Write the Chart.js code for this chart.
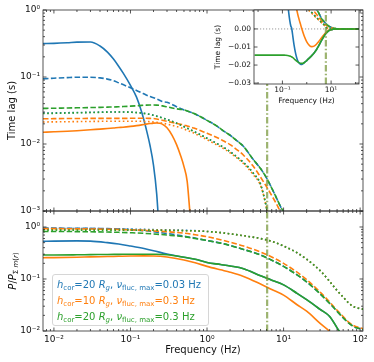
<!DOCTYPE html>
<html>
<head>
<meta charset="utf-8">
<script src="https://cdn.jsdelivr.net/npm/chart.js@4.4.1/dist/chart.umd.min.js"></script>
<style>
  body { margin: 0; background: #fff; }
  #fig { position: relative; width: 374px; height: 362px; font-family: "DejaVu Sans", sans-serif; color: #000; }
  #fig canvas { position: absolute; left: 0; top: 0; }
  #ylabel2 { position: absolute; left: 12px; top: 271px; font-size: 10px; white-space: nowrap;
    transform: translate(-50%, -50%) rotate(-90deg); }
  #legend { position: absolute; left: 52px; top: 274px; width: 151px; padding: 2px 0 0 4px;
    border: 1px solid #d6d6d6; border-radius: 3px; background: rgba(255,255,255,0.8);
    font-size: 10px; line-height: 16px; white-space: nowrap; }
  sub { font-size: 7px; vertical-align: -2px; line-height: 0; }
</style>
</head>
<body>
<div id="fig">
  <canvas id="lag" width="374" height="362"></canvas>
  <canvas id="pow" width="374" height="362"></canvas>
  <canvas id="inset" width="374" height="362"></canvas>
  <div id="ylabel2"><i>P</i>/<i>P</i><sub>Σ <i>m</i>(<i>r</i>)</sub></div>
  <div id="legend"></div>
</div>
<script>
// frequency of the marked line (Hz)
const fMark = 6.1;

// time lag (s) vs frequency (Hz)
const fLag = [0.0072, 0.01, 0.015, 0.02, 0.03, 0.04, 0.05, 0.06, 0.07, 0.08,
  0.1, 0.12, 0.14, 0.16, 0.18, 0.2, 0.22, 0.24, 0.26, 0.3,
  0.35, 0.4, 0.45, 0.5, 0.55, 0.6, 0.65, 0.7, 0.8, 1,
  1.3, 1.6, 2, 2.5, 3, 4, 5, 6, 7, 8,
  9, 10, 12, 15, 20, 30, 50, 140];
const lagBlueSolid = [0.315, 0.318, 0.325, 0.332, 0.333, 0.29, 0.235, 0.185, 0.145, 0.115,
  0.075, 0.05, 0.03, 0.017, 0.0095, 0.0048, 0.0018, 0.0004, -0.0028, -0.0088,
  -0.0137, -0.0167, -0.0183, -0.0191, -0.0195, -0.0197, -0.0196, -0.0193, -0.0186, -0.0175,
  -0.016, -0.0148, -0.0133, -0.0115, -0.0097, -0.0065, -0.0042, -0.0027, -0.0017, -0.001,
  -0.0006, -0.0004, -0.0002, 0, 0, 0, 0, 0];
const lagBlueDashed = [0.094, 0.096, 0.098, 0.099, 0.099, 0.097, 0.093, 0.088, 0.082, 0.077,
  0.069, 0.063, 0.058, 0.054, 0.051, 0.049, 0.047, 0.045, 0.043, 0.042,
  0.039, 0.036, 0.034, 0.0323, 0.031, 0.03, 0.029, 0.028, 0.026, 0.0225,
  0.019, 0.016, 0.0135, 0.011, 0.0092, 0.0059, 0.0043, 0.0031, 0.0022, 0.0016,
  0.0012, 0.00095, 0.0005, 0.0002, 0.00005, 0, 0, 0];
const lagBlueDotted = [0.029, 0.0291, 0.0293, 0.0295, 0.0297, 0.0299, 0.03, 0.0301, 0.0301, 0.0301,
  0.0299, 0.0295, 0.029, 0.0284, 0.0277, 0.0269, 0.0261, 0.0253, 0.0246, 0.0233,
  0.0218, 0.0205, 0.0193, 0.0182, 0.0173, 0.0165, 0.0158, 0.0151, 0.014, 0.0122,
  0.0104, 0.0091, 0.0077, 0.0063, 0.0053, 0.0037, 0.0025, 0.0011, 0.0004, 0.0001,
  0, 0, 0, 0, 0, 0, 0, 0];
const lagOrangeSolid = [0.015, 0.0152, 0.0155, 0.0158, 0.0163, 0.0167, 0.017, 0.0173, 0.0176, 0.0178,
  0.0183, 0.0188, 0.0193, 0.0198, 0.0202, 0.0205, 0.0206, 0.0204, 0.0198, 0.0175,
  0.0135, 0.0098, 0.0068, 0.0046, 0.0028, 0.0009, -0.0006, -0.0019, -0.0042, -0.0072,
  -0.0092, -0.0098, -0.0095, -0.0085, -0.0072, -0.005, -0.0033, -0.0021, -0.0013, -0.0008,
  -0.0005, -0.0003, -0.0001, 0, 0, 0, 0, 0];
const lagOrangeDashed = [0.0238, 0.0239, 0.024, 0.024, 0.0241, 0.0241, 0.0241, 0.0241, 0.0241, 0.0241,
  0.0242, 0.0242, 0.0242, 0.0242, 0.0241, 0.024, 0.0236, 0.0231, 0.0226, 0.0218,
  0.021, 0.0203, 0.0197, 0.0192, 0.0186, 0.0181, 0.0175, 0.017, 0.016, 0.0145,
  0.0127, 0.0113, 0.0098, 0.0081, 0.0068, 0.0047, 0.0032, 0.0023, 0.0017, 0.0013,
  0.001, 0.0008, 0.0004, 0.0002, 0, 0, 0, 0];
const lagOrangeDotted = [0.0213, 0.0214, 0.0215, 0.0216, 0.0217, 0.0218, 0.0218, 0.0219, 0.0219, 0.0219,
  0.0219, 0.0219, 0.0218, 0.0217, 0.0215, 0.0213, 0.0211, 0.0208, 0.0205, 0.0198,
  0.019, 0.0182, 0.0175, 0.0168, 0.016, 0.0154, 0.0148, 0.0142, 0.0132, 0.0116,
  0.0099, 0.0087, 0.0074, 0.0061, 0.0051, 0.0035, 0.0024, 0.0011, 0.0004, 0.0001,
  0, 0, 0, 0, 0, 0, 0, 0];
const lagGreenSolid = [-0.0145, -0.0145, -0.0145, -0.0145, -0.0145, -0.0145, -0.0145, -0.0145, -0.0145, -0.0145,
  -0.0145, -0.0145, -0.0146, -0.0147, -0.0148, -0.015, -0.0152, -0.0155, -0.0158, -0.0165,
  -0.0173, -0.018, -0.0185, -0.0188, -0.019, -0.0191, -0.0191, -0.019, -0.0186, -0.0175,
  -0.016, -0.0148, -0.0133, -0.0115, -0.0097, -0.0065, -0.0042, -0.0027, -0.0017, -0.001,
  -0.0006, -0.0004, -0.0002, 0, 0, 0, 0, 0];
const lagGreenDashed = [0.034, 0.0342, 0.0345, 0.0347, 0.035, 0.0352, 0.0355, 0.0357, 0.036, 0.0362,
  0.0367, 0.0372, 0.0377, 0.038, 0.0382, 0.0383, 0.0381, 0.0377, 0.0371, 0.0358,
  0.0345, 0.0335, 0.0328, 0.0323, 0.031, 0.03, 0.029, 0.028, 0.026, 0.0225,
  0.019, 0.016, 0.0135, 0.011, 0.0092, 0.0059, 0.0043, 0.0031, 0.0022, 0.0016,
  0.0012, 0.00095, 0.0005, 0.0002, 0.00005, 0, 0, 0];
const lagGreenDotted = [0.0285, 0.0287, 0.029, 0.0292, 0.0295, 0.0297, 0.0299, 0.03, 0.03, 0.03,
  0.0298, 0.0294, 0.0289, 0.0283, 0.0276, 0.0268, 0.026, 0.0252, 0.0245, 0.0232,
  0.0217, 0.0204, 0.0192, 0.0181, 0.0172, 0.0164, 0.0157, 0.015, 0.0139, 0.0122,
  0.0104, 0.0091, 0.0077, 0.0063, 0.0053, 0.0037, 0.0025, 0.0011, 0.0004, 0.0001,
  0, 0, 0, 0, 0, 0, 0, 0];

// P / P_sum vs frequency (Hz)
const fPow = [0.0072, 0.01, 0.02, 0.03, 0.05, 0.07, 0.1, 0.15, 0.2, 0.3,
  0.5, 0.7, 1, 1.5, 2, 3, 5, 7, 10, 15,
  20, 30, 40, 50, 60, 70, 80, 90, 140];
const powBlueSolid = [0.53, 0.535, 0.54, 0.535, 0.5, 0.47, 0.43, 0.385, 0.35, 0.302,
  0.262, 0.24, 0.208, 0.19, 0.178, 0.158, 0.115, 0.095, 0.077, 0.053,
  0.04, 0.026, 0.019, 0.0115, 0.0075, 0.005, 0.0034, 0.0024, 0.0007];
const powBlueDashed = [0.95, 0.95, 0.945, 0.94, 0.93, 0.915, 0.89, 0.85, 0.81, 0.75,
  0.67, 0.61, 0.55, 0.49, 0.44, 0.37, 0.29, 0.23, 0.175, 0.12,
  0.088, 0.052, 0.034, 0.024, 0.018, 0.0145, 0.0125, 0.0115, 0.0102];
const powBlueDotted = [0.93, 0.93, 0.93, 0.93, 0.925, 0.92, 0.91, 0.9, 0.89, 0.88,
  0.865, 0.85, 0.82, 0.78, 0.74, 0.68, 0.6, 0.53, 0.43, 0.32,
  0.24, 0.145, 0.09, 0.06, 0.045, 0.035, 0.03, 0.028, 0.025];
const powOrangeSolid = [0.257, 0.258, 0.262, 0.266, 0.27, 0.273, 0.276, 0.278, 0.277, 0.265,
  0.232, 0.205, 0.175, 0.15, 0.135, 0.112, 0.08, 0.063, 0.049, 0.032,
  0.024, 0.014, 0.0098, 0.0066, 0.0046, 0.0033, 0.0024, 0.0018, 0.0006];
const powOrangeDashed = [0.93, 0.93, 0.92, 0.915, 0.905, 0.895, 0.88, 0.86, 0.84, 0.81,
  0.76, 0.71, 0.65, 0.57, 0.51, 0.43, 0.33, 0.265, 0.2, 0.135,
  0.097, 0.056, 0.036, 0.025, 0.019, 0.015, 0.013, 0.012, 0.0105];
const powOrangeDotted = [0.9, 0.9, 0.9, 0.9, 0.895, 0.89, 0.885, 0.88, 0.875, 0.865,
  0.85, 0.84, 0.82, 0.78, 0.74, 0.68, 0.6, 0.53, 0.43, 0.32,
  0.24, 0.145, 0.09, 0.06, 0.045, 0.035, 0.03, 0.028, 0.025];
const powGreenSolid = [0.29, 0.29, 0.292, 0.294, 0.296, 0.298, 0.3, 0.3, 0.299, 0.292,
  0.262, 0.24, 0.208, 0.19, 0.178, 0.158, 0.115, 0.095, 0.077, 0.053,
  0.04, 0.026, 0.019, 0.0115, 0.0075, 0.005, 0.0034, 0.0024, 0.0007];
const powGreenDashed = [0.82, 0.82, 0.815, 0.81, 0.8, 0.79, 0.775, 0.755, 0.735, 0.7,
  0.65, 0.6, 0.55, 0.49, 0.44, 0.37, 0.29, 0.23, 0.175, 0.12,
  0.088, 0.052, 0.034, 0.024, 0.018, 0.0145, 0.0125, 0.0115, 0.0102];
const powGreenDotted = [0.87, 0.87, 0.87, 0.87, 0.87, 0.87, 0.87, 0.865, 0.865, 0.86,
  0.85, 0.84, 0.82, 0.78, 0.74, 0.68, 0.6, 0.53, 0.43, 0.32,
  0.24, 0.145, 0.09, 0.06, 0.045, 0.035, 0.03, 0.028, 0.025];

// legend entries
const hCor = [20, 10, 20];
const nuFlucMax = ["0.03", "0.3", "0.3"];

const COLORS = ["#1f77b4", "#ff7f0e", "#2ca02c"];
const DASH = { solid: [], dashed: [5.5, 2.4], dotted: [1.6, 2.6] };
const MARK_COLOR = "rgba(118,150,56,0.72)";
const FONT = "DejaVu Sans";

const F_MIN = 0.0072, F_MAX = 109;
const LAG_MIN = 0.001, LAG_MAX = 1;
const POW_MIN = 0.01, POW_MAX = 2.03;
const IN_MIN = -0.0305, IN_MAX = 0.0105;
const IN_FMIN = 0.0068, IN_FMAX = 140;

Chart.defaults.font.family = FONT;
Chart.defaults.color = "#111";

const SUP = { "-": "\u207b", "0": "\u2070", "1": "\u00b9", "2": "\u00b2", "3": "\u00b3" };
function powLabel(v) {
  const e = String(Math.round(Math.log10(v)));
  return "10" + e.split("").map((c) => SUP[c]).join("");
}

function decades(min, max) {
  const out = [];
  for (let e = Math.ceil(Math.log10(min) - 1e-9); e <= Math.floor(Math.log10(max) + 1e-9); e++) {
    out.push(Number("1e" + e));
  }
  return out;
}

function logMarks(min, max) {
  const minor = [];
  for (let e = Math.floor(Math.log10(min)); e <= Math.ceil(Math.log10(max)); e++) {
    for (let k = 2; k < 10; k++) {
      const v = k * Number("1e" + e);
      if (v >= min && v <= max) minor.push(v);
    }
  }
  return { major: decades(min, max), minor };
}

// matplotlib style ticks pointing inwards on all four sides
const inTicks = {
  id: "inTicks",
  afterDraw(chart, args, opts) {
    const { ctx, chartArea: a } = chart;
    ctx.save();
    ctx.strokeStyle = "#2b2b2b";
    ctx.lineWidth = 0.8;
    for (const id of ["x", "y"]) {
      const s = chart.scales[id];
      const marks = opts[id] || logMarks(s.min, s.max);
      for (const [vals, len] of [[marks.major, 3.5], [marks.minor, 2]]) {
        for (const v of vals) {
          const p = s.getPixelForValue(v);
          ctx.beginPath();
          if (id === "x") {
            if (p < a.left - 0.5 || p > a.right + 0.5) continue;
            ctx.moveTo(p, a.bottom); ctx.lineTo(p, a.bottom - len);
            ctx.moveTo(p, a.top); ctx.lineTo(p, a.top + len);
          } else {
            if (p < a.top - 0.5 || p > a.bottom + 0.5) continue;
            ctx.moveTo(a.left, p); ctx.lineTo(a.left + len, p);
            ctx.moveTo(a.right, p); ctx.lineTo(a.right - len, p);
          }
          ctx.stroke();
        }
      }
    }
    ctx.strokeRect(a.left, a.top, a.right - a.left, a.bottom - a.top);
    ctx.restore();
  },
};

const whiteBox = {
  id: "whiteBox",
  beforeDraw(chart) {
    const { ctx, chartArea: a } = chart;
    ctx.save();
    ctx.fillStyle = "#fff";
    ctx.fillRect(a.left, a.top, a.right - a.left, a.bottom - a.top);
    ctx.restore();
  },
};

function series(xs, ys, color, style, order, keep) {
  return {
    data: xs.map((x, i) => ({ x, y: keep(ys[i]) ? ys[i] : null })),
    borderColor: color,
    borderWidth: 1.6,
    borderDash: DASH[style],
    pointRadius: 0,
    cubicInterpolationMode: "monotone",
    spanGaps: false,
    order,
    clip: 0,
  };
}

function markLine(yMin, yMax) {
  return {
    data: [{ x: fMark, y: yMin }, { x: fMark, y: yMax }],
    borderColor: MARK_COLOR,
    borderWidth: 2.2,
    borderDash: [6.5, 2.2, 1.6, 2.2],
    pointRadius: 0,
    order: 0,
    clip: 0,
  };
}

function lagSets(keep) {
  return [
    series(fLag, lagBlueSolid, COLORS[0], "solid", 3, keep),
    series(fLag, lagBlueDashed, COLORS[0], "dashed", 3, keep),
    series(fLag, lagBlueDotted, COLORS[0], "dotted", 3, keep),
    series(fLag, lagOrangeSolid, COLORS[1], "solid", 2, keep),
    series(fLag, lagOrangeDashed, COLORS[1], "dashed", 2, keep),
    series(fLag, lagOrangeDotted, COLORS[1], "dotted", 2, keep),
    series(fLag, lagGreenSolid, COLORS[2], "solid", 1, keep),
    series(fLag, lagGreenDashed, COLORS[2], "dashed", 1, keep),
    series(fLag, lagGreenDotted, COLORS[2], "dotted", 1, keep),
  ];
}

const positive = (v) => v > 0;
const any = () => true;
const noGrid = { display: false, drawTicks: false, tickLength: 0 };

function logAxis(min, max, showLabels, extra) {
  return Object.assign({
    type: "logarithmic",
    min, max,
    grid: noGrid,
    border: { display: false },
    afterBuildTicks: (s) => { s.ticks = decades(min, max).map((v) => ({ value: v })); },
    ticks: { display: showLabels, callback: (v) => powLabel(v), font: { size: 9 },
      padding: 3, maxRotation: 0, autoSkip: false },
  }, extra);
}

const base = {
  responsive: false,
  animation: false,
  devicePixelRatio: 1,
  events: [],
  plugins: { legend: { display: false }, tooltip: { enabled: false } },
};

// upper panel: time lag, log scale
new Chart(document.getElementById("lag"), {
  type: "line",
  data: { datasets: [...lagSets(positive), markLine(LAG_MIN, LAG_MAX)] },
  options: {
    ...base,
    layout: { padding: { left: 0, top: 10, right: 11, bottom: 151 } },
    scales: {
      x: logAxis(F_MIN, F_MAX, false, { afterFit: (s) => { s.height = 0; } }),
      y: logAxis(LAG_MIN, LAG_MAX, true, {
        afterFit: (s) => { s.width = 43; },
        title: { display: true, text: "Time lag (s)", font: { size: 10 }, padding: { top: 6, bottom: 0 } },
      }),
    },
  },
  plugins: [inTicks],
});

// lower panel: power fraction
new Chart(document.getElementById("pow"), {
  type: "line",
  data: {
    datasets: [
      series(fPow, powBlueSolid, COLORS[0], "solid", 3, positive),
      series(fPow, powBlueDashed, COLORS[0], "dashed", 3, positive),
      series(fPow, powBlueDotted, COLORS[0], "dotted", 3, positive),
      series(fPow, powOrangeSolid, COLORS[1], "solid", 2, positive),
      series(fPow, powOrangeDashed, COLORS[1], "dashed", 2, positive),
      series(fPow, powOrangeDotted, COLORS[1], "dotted", 2, positive),
      series(fPow, powGreenSolid, COLORS[2], "solid", 1, positive),
      series(fPow, powGreenDashed, COLORS[2], "dashed", 1, positive),
      series(fPow, powGreenDotted, COLORS[2], "dotted", 1, positive),
      markLine(POW_MIN, POW_MAX),
    ],
  },
  options: {
    ...base,
    layout: { padding: { left: 0, top: 211, right: 11, bottom: 0 } },
    scales: {
      x: logAxis(F_MIN, F_MAX, true, {
        afterFit: (s) => { s.height = 31; },
        title: { display: true, text: "Frequency (Hz)", font: { size: 10 }, padding: { top: 0, bottom: 6 } },
      }),
      y: logAxis(POW_MIN, POW_MAX, true, { afterFit: (s) => { s.width = 43; } }),
    },
  },
  plugins: [inTicks],
});

// inset: time lag, linear scale
new Chart(document.getElementById("inset"), {
  type: "line",
  data: {
    datasets: [
      ...lagSets(any),
      {
        data: [{ x: IN_FMIN, y: 0 }, { x: IN_FMAX, y: 0 }],
        borderColor: "#999", borderWidth: 1, borderDash: [1.2, 1.8],
        pointRadius: 0, order: 5, clip: 0,
      },
      markLine(IN_MIN, IN_MAX),
    ],
  },
  options: {
    ...base,
    layout: { padding: { left: 214, top: 10, right: 15, bottom: 254 } },
    scales: {
      x: {
        type: "logarithmic", min: IN_FMIN, max: IN_FMAX,
        grid: noGrid, border: { display: false },
        afterBuildTicks: (s) => { s.ticks = [0.1, 10].map((v) => ({ value: v })); },
        ticks: { callback: (v) => powLabel(v), font: { size: 7.5 }, padding: 2, maxRotation: 0, autoSkip: false },
        afterFit: (s) => { s.height = 24; },
        title: { display: true, text: "Frequency (Hz)", font: { size: 7.5 }, padding: { top: 0, bottom: 2 } },
      },
      y: {
        type: "linear", min: IN_MIN, max: IN_MAX,
        grid: noGrid, border: { display: false },
        afterBuildTicks: (s) => { s.ticks = [-0.03, -0.02, -0.01, 0].map((v) => ({ value: v })); },
        ticks: { callback: (v) => (v < 0 ? "\u2212" : "") + Math.abs(v).toFixed(2),
          font: { size: 7.5 }, padding: 3 },
        afterFit: (s) => { s.width = 40; },
        title: { display: true, text: "Time lag (s)", font: { size: 7.5 }, padding: { top: 0, bottom: 0 } },
      },
    },
    plugins: {
      ...base.plugins,
      inTicks: {
        x: { major: [0.1, 10], minor: [0.01, 1, 100] },
        y: { major: [-0.03, -0.02, -0.01, 0], minor: [] },
      },
    },
  },
  plugins: [whiteBox, inTicks],
});

// legend with sub-scripted labels
document.getElementById("legend").innerHTML = hCor.map((h, i) =>
  '<div style="color:' + COLORS[i] + '"><i>h</i><sub>cor</sub>=' + h +
  ' <i>R<sub>g</sub></i>, <i>\u03bd</i><sub>fluc, max</sub>=' + nuFlucMax[i] + " Hz</div>"
).join("");
</script>
</body>
</html>
